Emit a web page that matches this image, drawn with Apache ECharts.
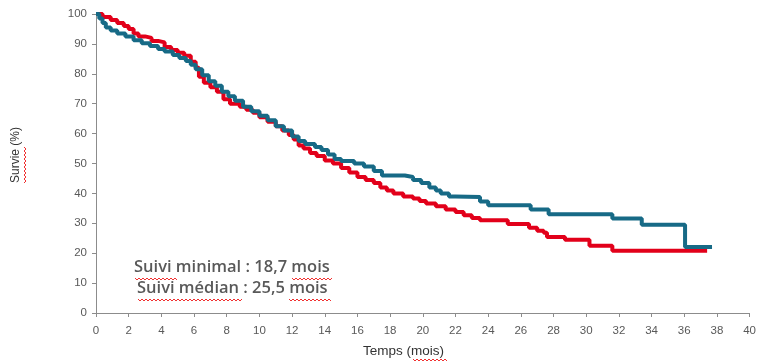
<!DOCTYPE html>
<html>
<head>
<meta charset="utf-8">
<script src="https://cdn.jsdelivr.net/npm/echarts@6/dist/echarts.min.js"></script>
<style>
  html, body { margin: 0; padding: 0; background: #fff; }
  #chart { width: 759px; height: 361px; }
</style>
</head>
<body>
<div id="chart"></div>
<script>
// Kaplan–Meier survival, two groups (time in months, survival in %)
const redTimes = [0, 0.4, 0.9, 1.3, 1.7, 2.0, 2.3, 2.6, 3.0, 3.4, 3.8, 4.2, 4.6, 5.0, 5.4, 5.8, 6.1, 6.3, 6.6, 7.0,
  7.4, 7.8, 8.2, 8.8, 9.2, 9.6, 10.0, 10.5, 11.0, 11.4, 11.8, 12.1, 12.4, 12.7, 13.1, 13.5, 14.0, 14.5, 15.0, 15.5,
  16.0, 16.5, 17.0, 17.4, 17.8, 18.2, 18.8, 19.4, 19.8, 20.2, 20.8, 21.4, 22.0, 22.5, 23.0, 23.5, 25.2, 26.5, 27.0,
  27.4, 27.6, 28.7, 30.2, 31.6, 37.4];
const redSurvival = [100, 99, 98, 97, 96, 95, 93.5, 92.5, 92, 91, 90.5, 89, 88, 87, 86, 84, 82, 79, 77, 75.5,
  74, 71.5, 70, 69, 68, 67, 65.5, 64, 62.5, 61, 59.5, 58, 56, 55, 53.5, 52.5, 51, 50, 48.5, 47,
  45.5, 44.5, 43.5, 42, 41, 40, 39, 38.3, 37.5, 36.6, 35.7, 34.6, 33.8, 32.7, 31.8, 31, 29.8, 28.5, 27.5,
  26.8, 25.4, 24.5, 22.5, 20.8, 20.8];

const blueTimes = [0, 0.2, 0.4, 0.6, 0.9, 1.3, 1.8, 2.3, 2.8, 3.3, 3.8, 4.2, 4.7, 5.1, 5.5, 5.8, 6.1, 6.5, 6.9, 7.3,
  7.7, 8.1, 8.5, 9.0, 9.5, 10.0, 10.5, 11.0, 11.5, 12.0, 12.4, 12.8, 13.4, 13.8, 14.2, 14.6, 15.0, 15.8, 16.4, 17.0,
  17.5, 18.9, 19.4, 19.9, 20.4, 20.8, 21.1, 21.6, 22.0, 23.5, 24.0, 26.6, 27.7, 31.6, 33.4, 36.05, 37.7];
const blueSurvival = [100, 98.5, 97, 95.5, 94.5, 93.5, 92.5, 91.2, 90.2, 89.3, 88.3, 87.5, 86.3, 85.3, 84.3, 83, 81.5, 79.5, 77.5, 76,
  74, 72.5, 71, 69, 67.5, 66, 64.5, 62.5, 61, 59, 57.5, 56.5, 55.5, 54.5, 53, 51.5, 50.8, 50, 49, 47.5,
  46, 45.5, 44.5, 43.5, 42, 41, 40, 39, 38.8, 37.3, 36, 34.6, 33, 31.6, 29.5, 22.1, 22.1];

const xTicks = { min: 0, max: 40, step: 2 };
const yTicks = { min: 0, max: 100, step: 10 };

const annotationLines = ['Suivi minimal : 18,7 mois', 'Suivi médian : 25,5 mois'];
const xTitle = 'Temps (mois)';
const yTitle = 'Survie (%)';

const pairs = (ts, vs) => ts.map((t, i) => [t, vs[i]]);

const RED = '#E2001A';
const BLUE = '#176A86';
const GREY_TEXT = '#595959';
const AXIS = '#8C8C8C';

// spell-check style squiggle under a word
function squiggle(x0, x1, y) {
  const pts = [];
  let up = true;
  for (let x = x0; x <= x1; x += 2) {
    pts.push([x, up ? y : y + 2]);
    up = !up;
  }
  return {
    type: 'polyline',
    shape: { points: pts },
    style: { stroke: '#F03030', lineWidth: 1, fill: null },
    silent: true
  };
}
function squiggleV(y0, y1, x) {
  const pts = [];
  let left = true;
  for (let y = y0; y <= y1; y += 2) {
    pts.push([left ? x : x + 2, y]);
    left = !left;
  }
  return {
    type: 'polyline',
    shape: { points: pts },
    style: { stroke: '#F03030', lineWidth: 1, fill: null },
    silent: true
  };
}

const chart = echarts.init(document.getElementById('chart'), null, { renderer: 'canvas' });

chart.setOption({
  animation: false,
  backgroundColor: '#fff',
  grid: { left: 96, right: 8, top: 14, bottom: 48, containLabel: false },
  xAxis: {
    type: 'value',
    min: xTicks.min, max: xTicks.max, interval: xTicks.step,
    axisLine: { show: true, lineStyle: { color: AXIS, width: 1 } },
    axisTick: { show: true, length: 4, lineStyle: { color: AXIS } },
    axisLabel: { color: GREY_TEXT, fontFamily: 'Liberation Sans', fontSize: 11.5, margin: 12 },
    splitLine: { show: false }
  },
  yAxis: {
    type: 'value',
    min: yTicks.min, max: yTicks.max, interval: yTicks.step,
    axisLine: { show: true, lineStyle: { color: AXIS, width: 1 } },
    axisTick: { show: true, length: 4, lineStyle: { color: AXIS } },
    axisLabel: { color: GREY_TEXT, fontFamily: 'Liberation Sans', fontSize: 11.5, margin: 9 },
    splitLine: { show: false }
  },
  series: [
    {
      name: 'Groupe A',
      type: 'line',
      step: 'end',
      showSymbol: false,
      lineStyle: { color: RED, width: 4 },
      data: pairs(redTimes, redSurvival),
      z: 2
    },
    {
      name: 'Groupe B',
      type: 'line',
      step: 'end',
      showSymbol: false,
      lineStyle: { color: BLUE, width: 4 },
      data: pairs(blueTimes, blueSurvival),
      z: 3
    }
  ],
  graphic: [
    {
      type: 'text', x: 134, y: 267, silent: true,
      style: { text: annotationLines[0], fill: GREY_TEXT, font: '600 16.5px "Open Sans"', verticalAlign: 'middle' }
    },
    {
      type: 'text', x: 137, y: 288, silent: true,
      style: { text: annotationLines[1], fill: GREY_TEXT, font: '600 16.5px "Open Sans"', verticalAlign: 'middle' }
    },
    {
      type: 'text', x: 363, y: 351, silent: true,
      style: { text: xTitle, fill: '#333', font: '13.5px "Liberation Sans"', verticalAlign: 'middle' }
    },
    {
      type: 'text', rotation: Math.PI / 2, x: 16, y: 183, silent: true,
      style: { text: yTitle, fill: '#333', font: '12px "Liberation Sans"', verticalAlign: 'middle' }
    },
    squiggle(135, 177, 278),
    squiggle(292, 333, 278),
    squiggle(138, 242, 299),
    squiggle(289, 331, 299),
    squiggle(413, 447, 359),
    squiggleV(147, 183, 24)
  ]
});
</script>
</body>
</html>
